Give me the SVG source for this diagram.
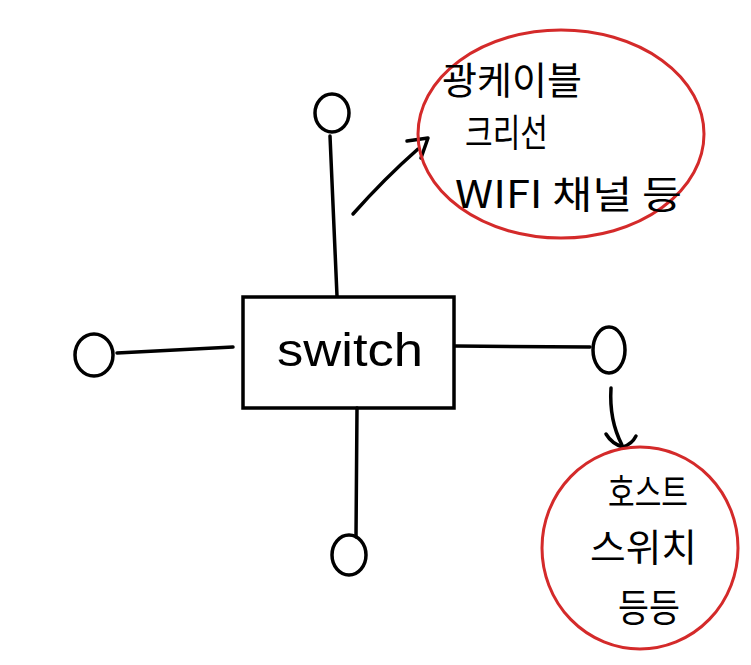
<svg xmlns="http://www.w3.org/2000/svg" width="751" height="665" viewBox="0 0 751 665">
<style>
.ink{fill:none;stroke:#000;stroke-width:3.5;stroke-linecap:round;stroke-linejoin:round}
.red{fill:none;stroke:#d42a2a;stroke-width:3}
.t{font-family:"Noto Sans CJK KR","Noto Sans",sans-serif;font-size:38px;fill:#000;font-weight:400}
.sw{font-family:"Liberation Sans",sans-serif;font-size:46px;fill:#000}
</style>
<rect width="751" height="665" fill="#fff"/>
<g id="connectors">
<path class="ink" d="M337,296 L330,136"/>
<path class="ink" d="M233,347 L117,353"/>
<path class="ink" d="M455,346 L590,347"/>
<path class="ink" d="M357,408 L356,537"/>
<path class="ink" d="M353,214 Q385,178 418,149"/>
<path class="ink" d="M407,141 L428,138 L421,158"/>
<path class="ink" d="M611,388 Q609,420 622,445"/>
<path class="ink" d="M606,434 Q612,444 623,447 Q632,444 636,436"/>
</g>
<g id="switch">
<rect x="243" y="297" width="211" height="111" fill="none" stroke="#000" stroke-width="3.5"/>
<text class="sw" x="277" y="366" textLength="146" lengthAdjust="spacingAndGlyphs">switch</text>
</g>
<g id="node-top"><ellipse class="ink" cx="332" cy="113" rx="17" ry="19"/></g>
<g id="node-left"><ellipse class="ink" cx="94" cy="355" rx="19" ry="21"/></g>
<g id="node-right"><ellipse class="ink" cx="609" cy="350" rx="16" ry="23"/></g>
<g id="node-bottom"><ellipse class="ink" cx="349" cy="555" rx="17" ry="20"/></g>
<g id="note-top">
<ellipse class="red" cx="561" cy="134" rx="143" ry="104"/>
<text class="t" x="442" y="94" textLength="140" lengthAdjust="spacingAndGlyphs">광케이블</text>
<text class="t" x="465" y="146" textLength="83" lengthAdjust="spacingAndGlyphs">크리선</text>
<text class="t" x="455" y="208" textLength="227" lengthAdjust="spacingAndGlyphs">WIFI 채널 등</text>
</g>
<g id="note-bottom">
<ellipse class="red" cx="640" cy="548" rx="98" ry="101"/>
<text class="t" x="608" y="506" textLength="80" lengthAdjust="spacingAndGlyphs">호스트</text>
<text class="t" x="590" y="561" textLength="107" lengthAdjust="spacingAndGlyphs">스위치</text>
<text class="t" x="618" y="621" textLength="62" lengthAdjust="spacingAndGlyphs">등등</text>
</g>
</svg>
